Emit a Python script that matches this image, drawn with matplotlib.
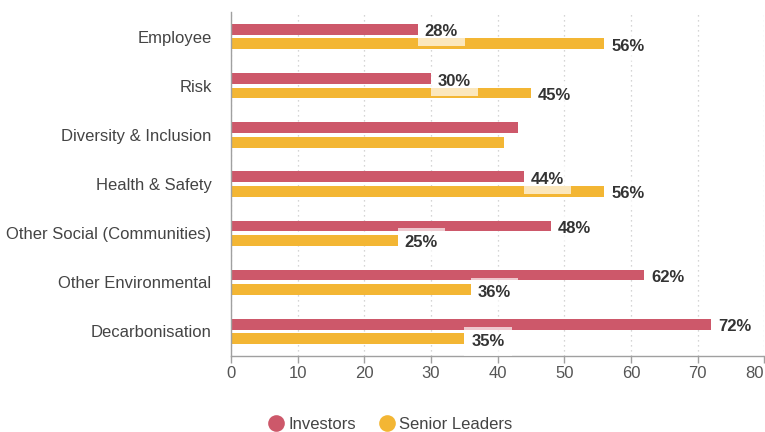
import matplotlib
matplotlib.use("Agg")
import matplotlib.pyplot as plt
from matplotlib.lines import Line2D
import numpy as np

plt.rcParams["font.family"] = ["Liberation Sans", "DejaVu Sans"]

categories = ["Employee", "Risk", "Diversity & Inclusion", "Health & Safety",
              "Other Social (Communities)", "Other Environmental", "Decarbonisation"]
investors = [28, 30, 43, 44, 48, 62, 72]
senior_leaders = [56, 45, 41, 56, 25, 36, 35]
labelled = [True, True, False, True, True, True, True]

RED = "#cd586a"
YELLOW = "#f3b634"
TEXT = "#333333"

fig = plt.figure(figsize=(7.65, 4.32), dpi=100)
ax = fig.add_axes([0.302, 0.176, 0.697, 0.796])

y = np.arange(len(categories))
off, h = 0.147, 0.22
ax.barh(y - off, investors, height=h, color=RED, zorder=2)
ax.barh(y + off, senior_leaders, height=h, color=YELLOW, zorder=2)

# value labels sit on a translucent white box that spills onto the neighbouring bar
box = dict(boxstyle="square,pad=0.42", fc="white", ec="none", alpha=0.68)
for i, show in enumerate(labelled):
    if not show:
        continue
    for val, yy in ((investors[i], y[i] - off), (senior_leaders[i], y[i] + off)):
        ax.annotate(f"{val}%", (val, yy), xytext=(5, -1.8), textcoords="offset points",
                    ha="left", va="center", fontsize=12, fontweight="bold",
                    color=TEXT, bbox=box, zorder=3)

ax.set_xlim(0, 80)
ax.set_ylim(len(categories) - 0.5, -0.5)
ax.set_xticks(range(0, 81, 10))
ax.set_yticks(y)
ax.set_yticklabels(categories)

ax.grid(axis="x", color="#c8c8c8", linestyle=(0, (1, 3)), linewidth=0.9, zorder=0)
ax.set_axisbelow(True)
for s in ("top", "right"):
    ax.spines[s].set_visible(False)
for s in ("left", "bottom"):
    ax.spines[s].set_color("#a0a0a0")
    ax.spines[s].set_linewidth(1.0)

ax.tick_params(axis="y", length=0, pad=14, labelsize=12, labelcolor="#444444")
ax.tick_params(axis="x", length=5, width=1, color="#a0a0a0", pad=2,
               labelsize=12, labelcolor="#555555")
xlabels = ax.get_xticklabels()
xlabels[-1].set_horizontalalignment("right")

handles = [Line2D([], [], marker="o", ls="none", ms=12, mfc=RED, mec="none"),
           Line2D([], [], marker="o", ls="none", ms=12, mfc=YELLOW, mec="none")]
fig.legend(handles, ["Investors", "Senior Leaders"], loc="center",
           bbox_to_anchor=(0.51, 0.018), ncol=2, frameon=False, fontsize=12,
           labelcolor="#444444", handlelength=1.0, handletextpad=0.25,
           columnspacing=1.3)

fig.savefig("out.png", dpi=100)
